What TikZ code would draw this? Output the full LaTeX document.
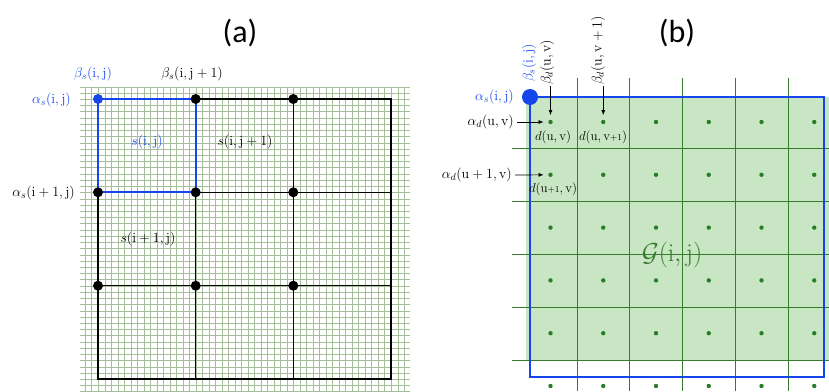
\documentclass[tikz,border=0pt]{standalone}
\usepackage{fix-cm}
\usepackage{fontspec}
\newfontfamily\carl{Carlito}
\usetikzlibrary{arrows.meta}
\definecolor{fineg}{RGB}{165,190,155}
\definecolor{bblue}{RGB}{20,70,235}
\definecolor{gline}{RGB}{55,125,45}
\definecolor{gfill}{RGB}{200,230,195}
\definecolor{gdot}{RGB}{40,125,40}
\begin{document}
\begin{tikzpicture}[x=1pt,y=-1pt,
  lab/.style={inner sep=1pt, font=\fontsize{14}{16}\selectfont},
  dlab/.style={inner sep=1pt, font=\fontsize{13}{15}\selectfont},
  ttl/.style={inner sep=0pt, font=\carl\fontsize{32}{36}\selectfont},
  bigdot/.style={circle, fill=black, inner sep=0pt, minimum size=10pt},
  bluedot/.style={circle, fill=bblue, inner sep=0pt, minimum size=10pt},
  gdotst/.style={circle, fill=gdot, inner sep=0pt, minimum size=4.4pt},
  arr/.style={-{Latex[length=5pt,width=4pt]}, line width=0.7pt, black},
  coarse/.style={black, line width=1.2pt},
  bluebox/.style={bblue, line width=2.2pt},
  fineline/.style={fineg, line width=1pt},
  gridg/.style={gline, line width=1pt}]
\useasboundingbox (0,0) rectangle (829,391);

% ---------------- panel (a) ----------------
\foreach \k in {-2,...,47}
  \draw[fineline] ({round(98+\k*6.511)+0.5},87) -- ({round(98+\k*6.511)+0.5},391);
\foreach \k in {-2,...,47}
  \draw[fineline] (80,{round(99+\k*6.222)+0.5}) -- (410,{round(99+\k*6.222)+0.5});

\coordinate (c03) at (391,99);
\coordinate (c13) at (391,192.3);
\coordinate (c23) at (391,285.7);
\coordinate (c30) at (98,379);
\coordinate (c31) at (195.7,379);
\coordinate (c32) at (293.3,379);
\coordinate (c33) at (391,379);

\draw[coarse] (98,99) -- (c03) -- (c33) -- (c30) -- cycle;
\draw[coarse] (98,192.3) -- (c13);
\draw[coarse] (98,285.7) -- (c23);
\draw[coarse] (195.7,99) -- (c31);
\draw[coarse] (293.3,99) -- (c32);
\draw[bluebox] (98,99) rectangle (195.7,192.3);

\node[bluedot] (p00) at (98,99) {};
\node[bigdot] (p01) at (195.7,99) {};
\node[bigdot] (p02) at (293.3,99) {};
\node[bigdot] (p10) at (98,192.3) {};
\node[bigdot] (p11) at (195.7,192.3) {};
\node[bigdot] (p12) at (293.3,192.3) {};
\node[bigdot] (p20) at (98,285.7) {};
\node[bigdot] (p21) at (195.7,285.7) {};
\node[bigdot] (p22) at (293.3,285.7) {};

\node[ttl] (ta) at (240,33) {(a)};
\node[lab, text=bblue] (bsa) at (93,74) {$\beta_s(\mathrm{i},\mathrm{j})$};
\node[lab] (bsb) at (192,74) {$\beta_s(\mathrm{i},\mathrm{j}+1)$};
\node[lab, text=bblue, anchor=east] (asa) at (72,100) {$\alpha_s(\mathrm{i},\mathrm{j})$};
\node[lab, anchor=east] (asb) at (76,193) {$\alpha_s(\mathrm{i}+1,\mathrm{j})$};
\node[lab, text=bblue] (sa) at (147,142) {$s(\mathrm{i},\mathrm{j})$};
\node[lab] (sb) at (245,142) {$s(\mathrm{i},\mathrm{j}+1)$};
\node[lab] (sc) at (148,239) {$s(\mathrm{i}+1,\mathrm{j})$};

% ---------------- panel (b) ----------------
\fill[gfill] (526,97) rectangle (829,360);
\foreach \k in {0,...,4}
  \draw[gridg] ({577+\k*52.75},78) -- ({577+\k*52.75},391);
\foreach \k in {0,...,4}
  \draw[gridg] (512,{148+\k*53}) -- (829,{148+\k*53});
\draw[bluebox] (530,97) rectangle (824,377);

\foreach \r in {0,...,5}
  \foreach \c in {0,...,5}
    \node[gdotst] (d\r\c) at ({550.5+\c*52.75},{122+\r*52.8}) {};

\node[circle, fill=bblue, inner sep=0pt, minimum size=16pt] (big) at (530,97) {};

\node[ttl] (tb) at (677,33) {(b)};
\node[lab, text=bblue, anchor=east] (asc) at (515,97) {$\alpha_s(\mathrm{i},\mathrm{j})$};
\node[lab, text=bblue, rotate=90, anchor=west] (bsc) at (529,83) {$\beta_s(\mathrm{i},\mathrm{j})$};
\node[lab, rotate=90, anchor=west] (bdl) at (547,86) {$\beta_d(\mathrm{u},\mathrm{v})$};
\node[lab, rotate=90, anchor=west] (bdr) at (598,86) {$\beta_d(\mathrm{u},\mathrm{v}+1)$};
\node[lab, anchor=east] (adl) at (515,122) {$\alpha_d(\mathrm{u},\mathrm{v})$};
\node[lab, anchor=east] (adm) at (513,175) {$\alpha_d(\mathrm{u}+1,\mathrm{v})$};

\draw[arr, shorten >=4.5pt] (d00 |- bdl.west) -- (d00);
\draw[arr, shorten >=4.5pt] (d01 |- bdr.west) -- (d01);
\draw[arr, shorten <=2pt, shorten >=4.5pt] (adl.east) -- (d00);
\draw[arr, shorten <=2pt, shorten >=4.5pt] (adm.east) -- (d10);

\node[dlab] (l00) at (553,137) {$d(\mathrm{u},\mathrm{v})$};
\node[dlab] (l01) at (603,137) {$d(\mathrm{u},\mathrm{v}{\scriptstyle+1})$};
\node[dlab] (l10) at (553,189) {$d(\mathrm{u}{\scriptstyle+1},\mathrm{v})$};

\node[inner sep=0pt, text=gline, font=\fontsize{26}{30}\selectfont] (G) at (672,255) {$\mathcal{G}(\mathrm{i},\mathrm{j})$};
\end{tikzpicture}
\end{document}
